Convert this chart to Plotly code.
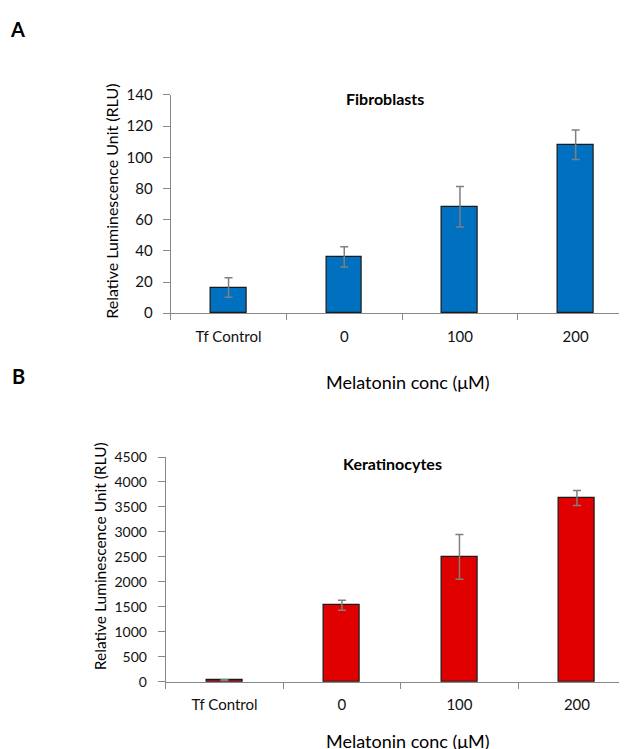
import plotly.graph_objects as go

categories = ["Tf Control", "0", "100", "200"]
fibro_values = [16.5, 36.2, 68.3, 108.0]
fibro_errors = [6.3, 6.5, 13.0, 9.5]
kera_values = [28, 1530, 2500, 3680]
kera_errors = [8, 100, 450, 150]

FONT = "Lato"
W, H = 627, 749

# the page shows design point (x, y) at (x + 8, 17 + 0.9775 * y); invert to hit target pixels
def px(x):
    return (x - 8) / W

def py(y):
    return 1 - ((y - 17) / 0.9775) / H

fig = go.Figure()
fig.add_trace(go.Bar(
    x=categories, y=fibro_values, width=0.31,
    marker=dict(color="#0070C0", line=dict(color="#1a1a1a", width=1.2)),
    error_y=dict(type="data", array=fibro_errors, color="#7f7f7f", thickness=1.5, width=4),
    xaxis="x", yaxis="y", showlegend=False))
fig.add_trace(go.Bar(
    x=categories, y=kera_values, width=0.31,
    marker=dict(color="#E00000", line=dict(color="#1a1a1a", width=1.2)),
    error_y=dict(type="data", array=kera_errors, color="#7f7f7f", thickness=1.5, width=4),
    xaxis="x2", yaxis="y2", showlegend=False))

axis_common = dict(showgrid=False, zeroline=False, showline=True, linecolor="#888888",
                   linewidth=1, ticks="outside", tickcolor="#888888",
                   tickfont=dict(family=FONT, size=15, color="#111"))

x1_left = px(170.7)
x2_left = px(165.7)
span1 = (1 - x1_left) * W / 115.7
span2 = (1 - x2_left) * W / 117.5

fig.update_layout(
    width=W, height=H, margin=dict(l=0, r=0, t=0, b=0),
    paper_bgcolor="white", plot_bgcolor="white", bargap=0,
    font=dict(family=FONT, color="#111"),
    xaxis=dict(axis_common, domain=[x1_left, 1.0], range=[-0.5, -0.5 + span1], type="category",
               tickson="boundaries", anchor="y", ticklen=6, ticklabelstandoff=10),
    yaxis=dict(axis_common, domain=[py(312.7), py(94)], range=[0, 140],
               tickvals=[0, 20, 40, 60, 80, 100, 120, 140], anchor="x",
               ticklen=7, ticklabelstandoff=7),
    xaxis2=dict(axis_common, domain=[x2_left, 1.0], range=[-0.5, -0.5 + span2], type="category",
                tickson="boundaries", anchor="y2", ticklen=6, ticklabelstandoff=9),
    yaxis2=dict(axis_common, domain=[py(681.7), py(456.7)], range=[0, 4500],
                tickvals=list(range(0, 4501, 500)), anchor="x2",
                ticklen=7, ticklabelstandoff=8,
                tickfont=dict(family=FONT, size=14, color="#111")),
)

def ann(text, x, y, size, bold=False, angle=0):
    fig.add_annotation(text=f"<b>{text}</b>" if bold else text, x=px(x), y=py(y),
                       xref="paper", yref="paper", showarrow=False, textangle=angle,
                       xanchor="center", yanchor="middle",
                       font=dict(family=FONT, size=size, color="#000"))

ann("A", 17, 28, 20, bold=True)
ann("B", 18, 376, 20, bold=True)
ann("Fibroblasts", 385, 98, 16, bold=True)
ann("Keratinocytes", 392, 463, 16, bold=True)
ann("Relative Luminescence Unit (RLU)", 112, 201, 16, angle=-90)
ann("Relative Luminescence Unit (RLU)", 100, 556, 15.5, angle=-90)
ann("Melatonin conc (μM)", 408, 382, 18)
ann("Melatonin conc (μM)", 408, 741, 18)

fig.write_html("out.html")
